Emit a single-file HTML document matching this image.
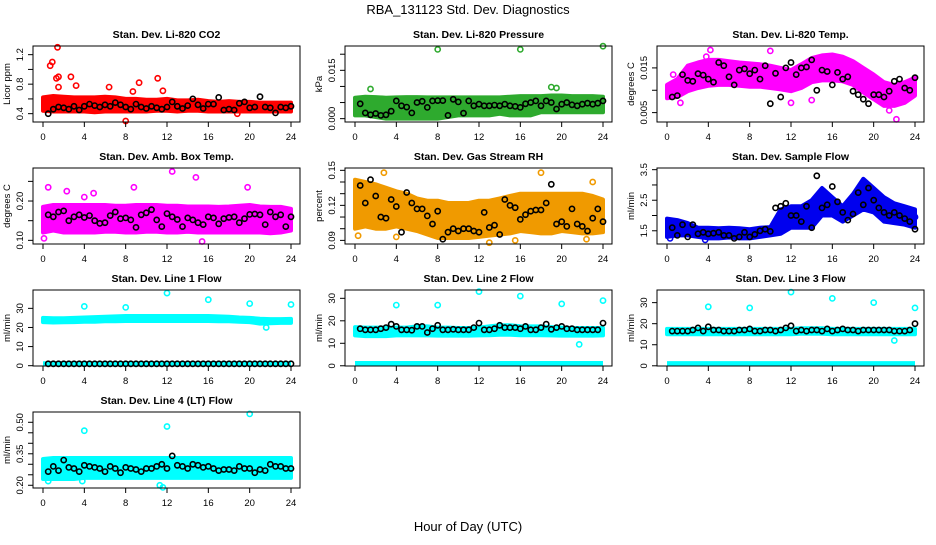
<!DOCTYPE html>
<html><head><meta charset="utf-8"><style>
body{margin:0;background:#fff}
svg text{font-family:"Liberation Sans",sans-serif;fill:#000}
</style></head><body>
<svg id="chart" width="936" height="540" viewBox="0 0 936 540" xmlns="http://www.w3.org/2000/svg">
<text x="468" y="14" text-anchor="middle" font-size="13">RBA_131123  Std. Dev. Diagnostics</text>
<text x="468" y="531" text-anchor="middle" font-size="13">Hour of Day (UTC)</text>
</svg>
<script>
const xTicks=[0,4,8,12,16,20,24];
const hours=[0,1,2,3,4,5,6,7,8,9,10,11,12,13,14,15,16,17,18,19,20,21,22,23,24];
const titles=["Stan. Dev. Li-820 CO2","Stan. Dev. Li-820 Pressure","Stan. Dev. Li-820 Temp.","Stan. Dev. Amb. Box Temp.","Stan. Dev. Gas Stream RH","Stan. Dev. Sample Flow","Stan. Dev. Line 1 Flow","Stan. Dev. Line 2 Flow","Stan. Dev. Line 3 Flow","Stan. Dev. Line 4 (LT) Flow"];
const yTitles=["Licor ppm","kPa","degrees C","degrees C","percent","ml/min","ml/min","ml/min","ml/min","ml/min"];
const yLims=[[0.287,1.3175],[-0.00104,0.02255],[0.0029,0.0199],[0.0907,0.284],[0.0869,0.152],[1.067,3.555],[-0.16,39.6],[-0.1,33.7],[-0.1,36],[0.187,0.549]];
const yTickVals=[[0.4,0.6,0.8,1.0,1.2],[0,0.005,0.01,0.015,0.02],[0.005,0.01,0.015],[0.1,0.15,0.2,0.25],[0.09,0.1,0.11,0.12,0.13,0.14,0.15],[1.5,2,2.5,3,3.5],[0,10,20,30],[0,10,20,30],[0,10,20,30],[0.2,0.25,0.3,0.35,0.4,0.45,0.5]];
const yTickLabels=[["0.4","","0.8","","1.2"],["0.000","","","0.015",""],["0.005","","0.015"],["0.10","","0.20",""],["0.09","","","0.12","","","0.15"],["1.5","","2.5","","3.5"],["0","10","20","30"],["0","10","20","30"],["0","10","20","30"],["0.20","","","0.35","","","0.50"]];
const colors=["#ff0000","#2eaa2e","#ff00ff","#ff00ff","#f09a00","#0000ee","#00ffff","#00ffff","#00ffff","#00ffff"];
const bandLo=[
[0.44,0.43,0.43,0.43,0.43,0.42,0.43,0.43,0.43,0.43,0.43,0.44,0.44,0.43,0.44,0.44,0.43,0.43,0.43,0.43,0.43,0.43,0.43,0.43,0.43],
[0.001,0.001,0.0005,0,0,0,0,0,0,0.0005,0.001,0.001,0.001,0.001,0.0015,0.001,0.001,0.001,0.002,0.002,0.002,0.002,0.002,0.002,0.002],
[0.0082,0.0085,0.0098,0.0105,0.011,0.0112,0.0112,0.011,0.0108,0.0108,0.0105,0.0102,0.0098,0.0105,0.0118,0.0122,0.0122,0.012,0.0112,0.0095,0.008,0.0065,0.0065,0.0072,0.0088],
[0.12,0.125,0.12,0.12,0.12,0.12,0.122,0.122,0.12,0.12,0.122,0.122,0.12,0.12,0.122,0.12,0.12,0.12,0.12,0.12,0.12,0.12,0.118,0.12,0.125],
[0.100,0.102,0.100,0.100,0.102,0.100,0.098,0.095,0.092,0.092,0.092,0.092,0.093,0.094,0.095,0.096,0.098,0.097,0.096,0.096,0.098,0.097,0.096,0.096,0.097],
[1.3,1.35,1.35,1.3,1.25,1.25,1.28,1.25,1.25,1.3,1.35,1.4,1.6,1.6,1.6,2.0,2.0,1.8,2.0,2.2,2.1,1.8,1.75,1.7,1.6],
[22.8,22.6,22.7,22.8,23,23,23.2,23.3,23.4,23.4,23.4,23.4,23.4,23.4,23.4,23.4,23.4,23.3,23.2,23,22.8,22,22.2,22.4,22.4],
[13.5,13.2,13.2,13.2,13.5,13.5,13.5,13.5,13.4,13.4,13.4,13.4,13.5,13.6,13.8,13.8,13.6,13.6,13.6,13.5,13.4,13.4,13.4,13.4,13.5],
[15,15,15,15,15,15,15,15,15,15,15,15,15,15.2,15.2,15.2,15,15,15,15,15,15,15,15,15],
[0.23,0.23,0.23,0.23,0.235,0.235,0.235,0.235,0.235,0.235,0.235,0.235,0.235,0.235,0.235,0.235,0.235,0.235,0.235,0.235,0.235,0.235,0.235,0.235,0.235]];
const bandHi=[
[0.62,0.64,0.63,0.62,0.62,0.62,0.63,0.62,0.60,0.60,0.59,0.59,0.60,0.58,0.58,0.59,0.57,0.56,0.57,0.56,0.56,0.55,0.55,0.55,0.55],
[0.0065,0.0068,0.0067,0.0065,0.0066,0.0067,0.0067,0.0066,0.0066,0.0066,0.0066,0.0066,0.0066,0.0066,0.0066,0.0068,0.007,0.007,0.007,0.0072,0.0072,0.007,0.007,0.007,0.0068],
[0.0112,0.0125,0.0155,0.0162,0.0168,0.0168,0.0165,0.0162,0.016,0.0158,0.0155,0.015,0.0145,0.0158,0.0172,0.0178,0.018,0.0175,0.0165,0.015,0.0135,0.0118,0.0112,0.0118,0.0128],
[0.185,0.19,0.19,0.19,0.19,0.19,0.19,0.188,0.188,0.19,0.19,0.19,0.188,0.188,0.186,0.186,0.186,0.185,0.186,0.188,0.19,0.186,0.185,0.185,0.18],
[0.142,0.140,0.138,0.135,0.132,0.130,0.126,0.124,0.124,0.122,0.122,0.122,0.124,0.124,0.126,0.128,0.130,0.130,0.130,0.130,0.130,0.130,0.130,0.128,0.125],
[1.9,1.85,1.75,1.6,1.6,1.58,1.6,1.58,1.55,1.6,1.62,2.2,2.3,2.3,2.5,2.9,2.6,2.3,2.7,3.2,2.9,2.6,2.4,2.3,2.2],
[25,24.8,24.8,25,25.2,25.4,25.6,25.8,26,26,26,26,26,26,26,26,26,25.8,25.6,25.2,25,24.6,24.4,24.4,24.5],
[17.2,17,17,17,17,17,17.5,17.5,17,17,16.8,16.8,17,17.5,18,18,17.6,17.5,17.5,17.2,17,16.8,16.8,16.8,16.8],
[17.5,17.5,17.5,17.5,17.5,17.5,17.5,17.5,17.5,17.5,17.5,17.5,17.5,17.8,17.8,17.8,17.5,17.5,17.5,17.5,17.5,17.5,17.5,17.5,17.5],
[0.325,0.33,0.33,0.33,0.33,0.33,0.33,0.33,0.33,0.33,0.33,0.33,0.33,0.33,0.33,0.33,0.33,0.33,0.33,0.33,0.33,0.33,0.33,0.33,0.33]];
const baseLine=[null,null,null,null,null,null,1,1,1,null];
const outX=[
[0.7,0.9,1.4,1.3,1.5,1.5,2.7,3.2,6.4,8.7,9.3,11.1,11.6,8.0,18.8],
[8,16,24,1.5,19,19.5],
[0.6,1.3,3.8,4.2,10,21.5,22.2,12,14],
[0.5,2.3,4,4.9,8.8,12.5,14.8,15.4,19.8,0.1],
[2.8,18,23,0.3,4,13,15.5,22.4],
[0.3,3.7,24],
[4,8,12,16,20,24,21.6],
[4,8,12,16,20,24,21.7],
[4,8,12,16,20,24,22],
[4,12,20,11.3,11.6,0.5,3.8]];
const outY=[
[1.05,1.1,1.3,0.88,0.76,0.9,0.9,0.78,0.76,0.7,0.82,0.88,0.71,0.3,0.4],
[0.0215,0.0215,0.0225,0.0092,0.0098,0.0095],
[0.0135,0.0072,0.0175,0.019,0.0188,0.0055,0.0035,0.0072,0.0078],
[0.235,0.225,0.21,0.22,0.235,0.275,0.26,0.097,0.235,0.105],
[0.148,0.148,0.14,0.094,0.093,0.088,0.09,0.091],
[1.25,1.2,1.95],
[31,30.5,38,34.5,32.5,32,20],
[27,27,33,31,27.5,29,9.5],
[28,27.5,35,32,30,27.5,12],
[0.46,0.48,0.54,0.2,0.19,0.22,0.22]];
const blackVals=[
[0.40,0.46,0.49,0.48,0.46,0.50,0.45,0.50,0.53,0.51,0.49,0.52,0.50,0.55,0.52,0.49,0.46,0.53,0.49,0.47,0.50,0.48,0.46,0.49,0.56,0.50,0.47,0.51,0.60,0.52,0.47,0.53,0.53,0.62,0.45,0.46,0.45,0.54,0.56,0.48,0.49,0.63,0.49,0.48,0.41,0.49,0.48,0.50],
[0.0046,0.0018,0.0012,0.0016,0.0010,0.0012,0.0023,0.0055,0.0040,0.0036,0.0018,0.0050,0.0054,0.0035,0.0055,0.0056,0.0056,0.0010,0.0060,0.0052,0.0017,0.0055,0.0040,0.0045,0.0040,0.0040,0.0042,0.0040,0.0045,0.0040,0.0038,0.0035,0.0046,0.0050,0.0055,0.0040,0.0055,0.0050,0.0030,0.0045,0.0050,0.0043,0.0040,0.0045,0.0048,0.0045,0.0048,0.0055],
[0.0085,0.0088,0.0135,0.0122,0.0120,0.0137,0.0134,0.0125,0.0118,0.0162,0.0155,0.0130,0.0112,0.0145,0.0148,0.0137,0.0145,0.0125,0.0155,0.0070,0.0138,0.0085,0.0150,0.0162,0.0135,0.0150,0.0152,0.0168,0.0100,0.0145,0.0142,0.0112,0.0140,0.0125,0.0130,0.0098,0.0090,0.0080,0.0070,0.0090,0.0090,0.0085,0.0098,0.0120,0.0125,0.0105,0.0100,0.0128],
[0.165,0.160,0.172,0.175,0.150,0.160,0.165,0.158,0.163,0.150,0.143,0.145,0.163,0.172,0.155,0.157,0.152,0.133,0.165,0.170,0.178,0.152,0.135,0.168,0.160,0.153,0.135,0.157,0.152,0.145,0.140,0.160,0.157,0.142,0.155,0.158,0.160,0.145,0.155,0.166,0.167,0.165,0.140,0.172,0.160,0.165,0.135,0.160],
[0.137,0.122,0.142,0.128,0.110,0.109,0.125,0.119,0.097,0.131,0.122,0.117,0.117,0.111,0.104,0.115,0.091,0.097,0.100,0.098,0.100,0.100,0.098,0.097,0.114,0.101,0.103,0.095,0.125,0.120,0.118,0.108,0.112,0.115,0.116,0.116,0.122,0.138,0.104,0.106,0.102,0.117,0.104,0.102,0.098,0.109,0.117,0.106],
[1.6,1.35,1.7,1.3,1.7,1.4,1.45,1.4,1.42,1.45,1.35,1.35,1.25,1.3,1.45,1.3,1.38,1.5,1.55,1.48,2.25,2.3,2.4,2.0,2.0,1.8,2.3,1.6,3.3,2.25,2.35,2.95,2.45,2.1,1.85,2.05,2.75,2.35,2.9,2.5,2.25,2.1,2.0,2.1,2.0,1.9,1.8,1.55],
[1,1,1,1,1,1,1,1,1,1,1,1,1,1,1,1,1,1,1,1,1,1,1,1,1,1,1,1,1,1,1,1,1,1,1,1,1,1,1,1,1,1,1,1,1,1,1,1],
[16.5,16,16,16,16.5,17,18.5,17.5,16,16,15.8,17.5,17.5,14.8,16.5,18,16,16,16.2,16,16,16,17,19,16,16,16.5,18,17,17,17,16.5,17.5,16,16,17,18.5,16.2,17,17.5,16.5,16.5,16,16,16,16,16,19],
[16.5,16.5,16.5,16.5,17,18,16.5,18.5,17,17,16.5,16.5,16.5,17,17,17.5,16.5,16.5,17,17,16.5,17,18,19,16.5,17,16.5,17,17,16.5,17.5,16.5,17,17.5,17,17,16.5,17,17,17,17,17,17,16.5,16.5,16.5,17,20],
[0.265,0.29,0.27,0.32,0.285,0.28,0.265,0.295,0.29,0.285,0.28,0.265,0.29,0.28,0.26,0.285,0.28,0.275,0.265,0.28,0.28,0.29,0.30,0.28,0.34,0.295,0.29,0.28,0.30,0.295,0.285,0.29,0.28,0.27,0.275,0.275,0.27,0.29,0.28,0.28,0.26,0.275,0.27,0.30,0.29,0.29,0.28,0.28]];

const svg=document.getElementById('chart');
const NS='http://www.w3.org/2000/svg';
function mk(tag,attrs,parent){const e=document.createElementNS(NS,tag);for(const k in attrs)e.setAttribute(k,attrs[k]);(parent||svg).appendChild(e);return e;}
function ring(g,x,y,c){const e=mk('circle',{cx:x.toFixed(1),cy:y.toFixed(1),r:2.6,fill:'none',stroke:c,'stroke-width':1.6},g);return e;}

for(let p=0;p<10;p++){
  const col=p%3,row=Math.floor(p/3);
  const L=33+312*col,R=300+312*col,T=46+122*row,B=122+122*row;
  const xs=h=>43+312*col+(h/24)*248;
  const [y0,y1]=yLims[p];
  const ys=v=>B-(v-y0)/(y1-y0)*(B-T);
  const g=mk('g',{});
  
  
  const c=colors[p];
  let d='';
  hours.forEach((h,i)=>{d+=(i?'L':'M')+xs(h).toFixed(1)+','+ys(bandHi[p][i]).toFixed(1);});
  for(let i=hours.length-1;i>=0;i--)d+='L'+xs(hours[i]).toFixed(1)+','+ys(bandLo[p][i]).toFixed(1);
  d+='Z';
  const band=mk('path',{d:d,fill:c,stroke:c,'stroke-width':4,'stroke-linejoin':'round'},g);
  
  
  if(baseLine[p]!==null){
    const bl=mk('line',{x1:xs(0),x2:xs(24),y1:ys(baseLine[p]),y2:ys(baseLine[p]),stroke:c,'stroke-width':5},g);
    
    
  }
  outX[p].forEach((h,i)=>{const e=ring(g,xs(h),ys(outY[p][i]),c);
    
    });
  blackVals[p].forEach((v,i)=>{const h=0.5*(i+1);const e=ring(g,xs(h),ys(v),'#000');
    
    });
  const box=mk('rect',{x:L,y:T,width:R-L,height:B-T,fill:'none',stroke:'#000','stroke-width':1},g);
  
  
  xTicks.forEach(t=>{mk('line',{x1:xs(t),x2:xs(t),y1:B,y2:B+5,stroke:'#000'},g);
    const tx=mk('text',{x:xs(t),y:B+18,'text-anchor':'middle','font-size':9.5},g);tx.textContent=t;
    
    });
  yTickVals[p].forEach((t,i)=>{const y=ys(t);mk('line',{x1:L,x2:L-5,y1:y,y2:y,stroke:'#000'},g);
    if(yTickLabels[p][i]){const tx=mk('text',{x:0,y:0,'text-anchor':'middle','font-size':9.5,transform:'translate('+(L-10)+','+y.toFixed(1)+') rotate(-90)'},g);tx.textContent=yTickLabels[p][i];
    
    }});
  const yt=mk('text',{x:0,y:0,'text-anchor':'middle','font-size':9.5,transform:'translate('+(L-23)+','+((T+B)/2)+') rotate(-90)'},g);
  yt.textContent=yTitles[p];
  
  
  const tt=mk('text',{x:(L+R)/2,y:T-8,'text-anchor':'middle','font-size':10.5,'font-weight':'bold'},g);
  tt.textContent=titles[p];
  
  
}
</script>
</body></html>
